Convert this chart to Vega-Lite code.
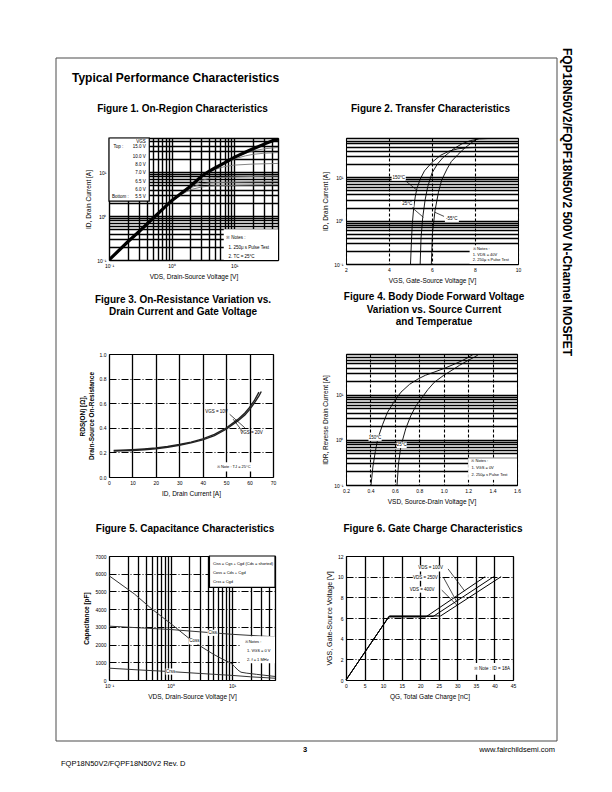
{
  "$schema": "https://vega.github.io/schema/vega-lite/v6.json",
  "background": "white",
  "padding": {"left": 56, "top": 45, "right": 5, "bottom": 5},
  "columns": 3,
  "spacing": {"row": 71, "column": 68},
  "bounds": "flush",
  "align": "each",
  "config": {
    "font": "Liberation Sans",
    "view": {"stroke": "black", "strokeWidth": 1},
    "axis": {"domain": false, "ticks": false, "labelFont": "Liberation Sans", "labelFontSize": 5, "labelColor": "black", "labelPadding": 3, "labelFlush": false, "labelOverlap": false, "titleFont": "Liberation Sans", "titleFontSize": 6.5, "titleFontWeight": "normal", "titleColor": "black", "titlePadding": 5, "grid": true, "gridColor": "black", "gridOpacity": 1, "gridWidth": 1.1},
    "title": {"font": "Liberation Sans", "fontSize": 10, "fontWeight": "bold", "color": "black", "anchor": "middle", "frame": "group", "lineHeight": 12.5},
    "text": {"font": "Liberation Sans", "color": "black", "fontSize": 4.5}
  },
  "concat": [
    {
      "width": 1, "height": 19, "view": {"stroke": null},
      "data": {"values": [{"t": "Typical Performance Characteristics"}]},
      "mark": {"type": "text", "align": "left", "baseline": "middle", "dx": -37.5, "dy": 20.5, "fontSize": 12, "fontWeight": "bold"},
      "encoding": {"text": {"field": "t"}}
    },
    {
      "width": 1, "height": 1, "view": {"stroke": null},
      "data": {"values": [{}]},
      "mark": {"type": "point", "opacity": 0}
    },
    {
      "width": 1, "height": 19, "view": {"stroke": null},
      "data": {"values": [{"t": "FQP18N50V2/FQPF18N50V2  500V N-Channel MOSFET"}]},
      "mark": {"type": "text", "angle": 90, "align": "left", "baseline": "middle", "dx": -9.5, "dy": 19.5, "fontSize": 12, "fontWeight": "bold"},
      "encoding": {"text": {"field": "t"}}
    },
    {
      "width": 169, "height": 122,
      "title": {"text": "Figure 1. On-Region Characteristics", "offset": 22, "dx": -11},
      "encoding": {
        "x": {"field": "x", "type": "quantitative", "scale": {"type": "log", "domain": [0.1, 50], "nice": false}, "axis": {"title": "VDS, Drain-Source Voltage [V]", "values": [0.1,0.2,0.3,0.4,0.5,0.6,0.7,0.8,0.9,1,2,3,4,5,6,7,8,9,10,20,30,40,50], "labelExpr": "datum.value == 0.1 ? '10⁻¹' : datum.value == 1 ? '10⁰' : datum.value == 10 ? '10¹' : ''", "gridWidth": 1.4}},
        "y": {"field": "y", "type": "quantitative", "scale": {"type": "log", "domain": [0.1, 60], "nice": false}, "axis": {"title": "ID, Drain Current [A]", "values": [0.1,0.2,0.3,0.4,0.5,0.6,0.7,0.8,0.9,1,2,3,4,5,6,7,8,9,10,20,30,40,50,60], "labelExpr": "datum.value == 0.1 ? '10⁻¹' : datum.value == 1 ? '10⁰' : datum.value == 10 ? '10¹' : ''", "gridWidth": 1.4}}
      },
      "layer": [
        {
          "data": {"values": [
            {"g": "10.0 V", "x": 1, "y": 2.25}, {"g": "10.0 V", "x": 2, "y": 4.8}, {"g": "10.0 V", "x": 3, "y": 8.1}, {"g": "10.0 V", "x": 5, "y": 12.6}, {"g": "10.0 V", "x": 7, "y": 16.2}, {"g": "10.0 V", "x": 10, "y": 21.5}, {"g": "10.0 V", "x": 15, "y": 27}, {"g": "10.0 V", "x": 20, "y": 30.5}, {"g": "10.0 V", "x": 30, "y": 34}, {"g": "10.0 V", "x": 40, "y": 35.5}, {"g": "10.0 V", "x": 50, "y": 36.5},
            {"g": "8.0 V", "x": 1, "y": 2.25}, {"g": "8.0 V", "x": 2, "y": 4.8}, {"g": "8.0 V", "x": 3, "y": 8.1}, {"g": "8.0 V", "x": 5, "y": 12.5}, {"g": "8.0 V", "x": 7, "y": 15.8}, {"g": "8.0 V", "x": 10, "y": 20}, {"g": "8.0 V", "x": 15, "y": 23.5}, {"g": "8.0 V", "x": 20, "y": 25.5}, {"g": "8.0 V", "x": 30, "y": 27}, {"g": "8.0 V", "x": 50, "y": 28},
            {"g": "7.0 V", "x": 1, "y": 2.25}, {"g": "7.0 V", "x": 2, "y": 4.7}, {"g": "7.0 V", "x": 3, "y": 7.8}, {"g": "7.0 V", "x": 4, "y": 10}, {"g": "7.0 V", "x": 5, "y": 11.6}, {"g": "7.0 V", "x": 7, "y": 13.4}, {"g": "7.0 V", "x": 10, "y": 14.5}, {"g": "7.0 V", "x": 20, "y": 15.3}, {"g": "7.0 V", "x": 50, "y": 15.8},
            {"g": "6.5 V", "x": 1, "y": 2.2}, {"g": "6.5 V", "x": 2, "y": 4.6}, {"g": "6.5 V", "x": 3, "y": 6.5}, {"g": "6.5 V", "x": 4, "y": 7.2}, {"g": "6.5 V", "x": 5, "y": 7.5}, {"g": "6.5 V", "x": 10, "y": 7.8}, {"g": "6.5 V", "x": 20, "y": 8}, {"g": "6.5 V", "x": 50, "y": 8.2},
            {"g": "6.0 V", "x": 1, "y": 2.2}, {"g": "6.0 V", "x": 2, "y": 4.4}, {"g": "6.0 V", "x": 3, "y": 5.4}, {"g": "6.0 V", "x": 4, "y": 5.7}, {"g": "6.0 V", "x": 5, "y": 5.8}, {"g": "6.0 V", "x": 10, "y": 5.9}, {"g": "6.0 V", "x": 20, "y": 6}, {"g": "6.0 V", "x": 50, "y": 6.1},
            {"g": "5.5 V", "x": 1, "y": 2.15}, {"g": "5.5 V", "x": 1.5, "y": 3.2}, {"g": "5.5 V", "x": 2, "y": 4}, {"g": "5.5 V", "x": 3, "y": 4.6}, {"g": "5.5 V", "x": 4, "y": 4.8}, {"g": "5.5 V", "x": 5, "y": 4.9}, {"g": "5.5 V", "x": 10, "y": 5}, {"g": "5.5 V", "x": 20, "y": 5.1}, {"g": "5.5 V", "x": 50, "y": 5.2}
          ]},
          "mark": {"type": "line", "color": "#777777", "strokeWidth": 0.9, "clip": true},
          "encoding": {"detail": {"field": "g"}}
        },
        {
          "data": {"values": [
            {"g": "15.0 V", "x": 0.1, "y": 0.1}, {"g": "15.0 V", "x": 0.2, "y": 0.26}, {"g": "15.0 V", "x": 0.3, "y": 0.44}, {"g": "15.0 V", "x": 0.5, "y": 0.88}, {"g": "15.0 V", "x": 0.7, "y": 1.38}, {"g": "15.0 V", "x": 1, "y": 2.25}, {"g": "15.0 V", "x": 1.5, "y": 3.5}, {"g": "15.0 V", "x": 2, "y": 4.8}, {"g": "15.0 V", "x": 3, "y": 8.1}, {"g": "15.0 V", "x": 4, "y": 10.6}, {"g": "15.0 V", "x": 5, "y": 12.6}, {"g": "15.0 V", "x": 7, "y": 16.2}, {"g": "15.0 V", "x": 10, "y": 21.8}, {"g": "15.0 V", "x": 15, "y": 28.5}, {"g": "15.0 V", "x": 20, "y": 34}, {"g": "15.0 V", "x": 30, "y": 43.5}, {"g": "15.0 V", "x": 40, "y": 51}, {"g": "15.0 V", "x": 50, "y": 57}
          ]},
          "mark": {"type": "line", "color": "black", "strokeWidth": 3.2, "clip": true}
        },
        {
          "data": {"values": [{"x": 0.1, "x2": 0.44, "y": 2.2, "y2": 60}]},
          "mark": {"type": "rect", "fill": "white", "stroke": "black", "strokeWidth": 1.2},
          "encoding": {"x2": {"field": "x2"}, "y2": {"field": "y2"}}
        },
        {
          "data": {"values": [{"x": 6.8, "x2": 50, "y": 0.1, "y2": 0.5}]},
          "mark": {"type": "rect", "fill": "white"},
          "encoding": {"x2": {"field": "x2"}, "y2": {"field": "y2"}}
        },
        {
          "data": {"values": [
            {"x": 0.385, "y": 49, "t": "VGS"}, {"x": 0.385, "y": 37.7, "t": "15.0 V"}, {"x": 0.385, "y": 22.2, "t": "10.0 V"}, {"x": 0.385, "y": 14.5, "t": "8.0 V"}, {"x": 0.385, "y": 9.4, "t": "7.0 V"}, {"x": 0.385, "y": 6.0, "t": "6.5 V"}, {"x": 0.385, "y": 4.0, "t": "6.0 V"}, {"x": 0.385, "y": 2.7, "t": "5.5 V"}
          ]},
          "mark": {"type": "text", "align": "right", "baseline": "middle"},
          "encoding": {"text": {"field": "t"}}
        },
        {
          "data": {"values": [
            {"x": 0.118, "y": 37.7, "t": "Top :"}, {"x": 0.112, "y": 2.7, "t": "Bottom :"},
            {"x": 7.4, "y": 0.315, "t": "※ Notes :"}, {"x": 8.1, "y": 0.19, "t": "1. 250μ s Pulse Test"}, {"x": 8.1, "y": 0.12, "t": "2. TC = 25°C"}
          ]},
          "mark": {"type": "text", "align": "left", "baseline": "middle"},
          "encoding": {"text": {"field": "t"}}
        }
      ]
    },
    {
      "width": 172, "height": 126,
      "title": {"text": "Figure 2. Transfer Characteristics", "offset": 22, "dx": -1.5},
      "encoding": {
        "x": {"field": "x", "type": "quantitative", "scale": {"domain": [2, 10], "nice": false, "zero": false}, "axis": {"title": "VGS, Gate-Source Voltage [V]", "values": [2, 4, 6, 8, 10], "gridDash": [3, 2]}},
        "y": {"field": "y", "type": "quantitative", "scale": {"type": "log", "domain": [0.1, 80], "nice": false}, "axis": {"title": "ID, Drain Current [A]", "values": [0.1,0.2,0.3,0.4,0.5,0.6,0.7,0.8,0.9,1,2,3,4,5,6,7,8,9,10,20,30,40,50,60,70,80], "labelExpr": "datum.value == 0.1 ? '10⁻¹' : datum.value == 1 ? '10⁰' : datum.value == 10 ? '10¹' : ''", "gridWidth": 1.3}}
      },
      "layer": [
        {
          "data": {"values": [
            {"g": "150°C", "x": 5.0, "y": 0.1}, {"g": "150°C", "x": 5.04, "y": 0.3}, {"g": "150°C", "x": 5.08, "y": 0.8}, {"g": "150°C", "x": 5.15, "y": 2}, {"g": "150°C", "x": 5.22, "y": 3.5}, {"g": "150°C", "x": 5.3, "y": 5.5}, {"g": "150°C", "x": 5.45, "y": 9}, {"g": "150°C", "x": 5.65, "y": 14}, {"g": "150°C", "x": 6.0, "y": 22}, {"g": "150°C", "x": 6.4, "y": 32}, {"g": "150°C", "x": 6.8, "y": 40}, {"g": "150°C", "x": 7.2, "y": 45}, {"g": "150°C", "x": 7.6, "y": 47.5}, {"g": "150°C", "x": 8, "y": 48.5}, {"g": "150°C", "x": 10, "y": 49},
            {"g": "25°C", "x": 5.45, "y": 0.1}, {"g": "25°C", "x": 5.49, "y": 0.4}, {"g": "25°C", "x": 5.57, "y": 1.2}, {"g": "25°C", "x": 5.68, "y": 3}, {"g": "25°C", "x": 5.8, "y": 6}, {"g": "25°C", "x": 6.0, "y": 12.5}, {"g": "25°C", "x": 6.25, "y": 20}, {"g": "25°C", "x": 6.5, "y": 28}, {"g": "25°C", "x": 7.0, "y": 45}, {"g": "25°C", "x": 7.4, "y": 59}, {"g": "25°C", "x": 7.8, "y": 70}, {"g": "25°C", "x": 8.2, "y": 76}, {"g": "25°C", "x": 8.6, "y": 77.5}, {"g": "25°C", "x": 10, "y": 78},
            {"g": "-55°C", "x": 5.97, "y": 0.1}, {"g": "-55°C", "x": 6.02, "y": 0.5}, {"g": "-55°C", "x": 6.14, "y": 1.7}, {"g": "-55°C", "x": 6.3, "y": 4.5}, {"g": "-55°C", "x": 6.45, "y": 8.6}, {"g": "-55°C", "x": 6.7, "y": 15.5}, {"g": "-55°C", "x": 6.9, "y": 23}, {"g": "-55°C", "x": 7.2, "y": 33}, {"g": "-55°C", "x": 7.5, "y": 46}, {"g": "-55°C", "x": 7.8, "y": 60}, {"g": "-55°C", "x": 8.0, "y": 72}, {"g": "-55°C", "x": 8.2, "y": 80}
          ]},
          "mark": {"type": "line", "color": "black", "strokeWidth": 0.9, "clip": true},
          "encoding": {"detail": {"field": "g"}}
        },
        {
          "data": {"values": [{"x": 4.75, "y": 8.4, "x2": 5.28, "y2": 5.1}, {"x": 5.07, "y": 2.0, "x2": 5.6, "y2": 1.19}, {"x": 6.56, "y": 1.25, "x2": 6.14, "y2": 1.55}]},
          "mark": {"type": "rule", "strokeWidth": 0.7},
          "encoding": {"x2": {"field": "x2"}, "y2": {"field": "y2"}}
        },
        {
          "data": {"values": [{"x": 4.12, "x2": 4.78, "y": 8.3, "y2": 11.5}, {"x": 4.55, "x2": 5.15, "y": 2.05, "y2": 2.8}, {"x": 6.6, "x2": 7.25, "y": 0.93, "y2": 1.28}, {"x": 7.75, "x2": 10, "y": 0.1, "y2": 0.27}]},
          "mark": {"type": "rect", "fill": "white"},
          "encoding": {"x2": {"field": "x2"}, "y2": {"field": "y2"}}
        },
        {
          "data": {"values": [{"x": 4.45, "y": 9.8, "t": "150°C"}, {"x": 4.85, "y": 2.4, "t": "25°C"}, {"x": 6.92, "y": 1.1, "t": "-55°C"}]},
          "mark": {"type": "text", "align": "center", "baseline": "middle"},
          "encoding": {"text": {"field": "t"}}
        },
        {
          "data": {"values": [{"x": 7.9, "y": 0.22, "t": "※ Notes :"}, {"x": 7.9, "y": 0.163, "t": "1. VDS = 40V"}, {"x": 7.9, "y": 0.124, "t": "2. 250μ s Pulse Test"}]},
          "mark": {"type": "text", "align": "left", "baseline": "middle", "fontSize": 4},
          "encoding": {"text": {"field": "t"}}
        }
      ]
    },
    {
      "width": 1, "height": 145, "view": {"stroke": null},
      "data": {"values": [{}]},
      "mark": {"type": "point", "opacity": 0}
    },
    {
      "width": 164, "height": 123,
      "title": {"text": ["Figure 3. On-Resistance Variation vs.", "Drain Current and Gate Voltage"], "offset": 35, "dx": -8},
      "encoding": {
        "x": {"field": "x", "type": "quantitative", "scale": {"domain": [0, 70], "nice": false}, "axis": {"title": "ID, Drain Current [A]", "values": [0, 10, 20, 30, 40, 50, 60, 70], "format": "d", "gridWidth": 1.3}},
        "y": {"field": "y", "type": "quantitative", "scale": {"domain": [0, 1], "nice": false}, "axis": {"title": ["RDS(ON) [Ω],", "Drain-Source On-Resistance"], "titleFontWeight": "bold", "values": [0, 0.2, 0.4, 0.6, 0.8, 1.0], "format": ".1f", "gridDash": [7, 2, 1, 2]}}
      },
      "layer": [
        {
          "data": {"values": [
            {"g": "10V", "x": 2, "y": 0.215}, {"g": "10V", "x": 5, "y": 0.217}, {"g": "10V", "x": 10, "y": 0.222}, {"g": "10V", "x": 15, "y": 0.228}, {"g": "10V", "x": 20, "y": 0.236}, {"g": "10V", "x": 25, "y": 0.248}, {"g": "10V", "x": 30, "y": 0.264}, {"g": "10V", "x": 35, "y": 0.284}, {"g": "10V", "x": 40, "y": 0.31}, {"g": "10V", "x": 45, "y": 0.346}, {"g": "10V", "x": 50, "y": 0.398}, {"g": "10V", "x": 55, "y": 0.468}, {"g": "10V", "x": 58, "y": 0.52}, {"g": "10V", "x": 60, "y": 0.565}, {"g": "10V", "x": 62, "y": 0.62}, {"g": "10V", "x": 64, "y": 0.69},
            {"g": "20V", "x": 2, "y": 0.21}, {"g": "20V", "x": 5, "y": 0.212}, {"g": "20V", "x": 10, "y": 0.216}, {"g": "20V", "x": 15, "y": 0.222}, {"g": "20V", "x": 20, "y": 0.23}, {"g": "20V", "x": 25, "y": 0.242}, {"g": "20V", "x": 30, "y": 0.258}, {"g": "20V", "x": 35, "y": 0.277}, {"g": "20V", "x": 40, "y": 0.302}, {"g": "20V", "x": 45, "y": 0.337}, {"g": "20V", "x": 50, "y": 0.388}, {"g": "20V", "x": 55, "y": 0.456}, {"g": "20V", "x": 58, "y": 0.505}, {"g": "20V", "x": 60, "y": 0.548}, {"g": "20V", "x": 62, "y": 0.6}, {"g": "20V", "x": 64, "y": 0.66}, {"g": "20V", "x": 65, "y": 0.695}
          ]},
          "mark": {"type": "line", "color": "#222222", "strokeWidth": 1.4},
          "encoding": {"detail": {"field": "g"}}
        },
        {
          "data": {"values": [{"x": 51.5, "y": 0.51, "x2": 58, "y2": 0.4}, {"x": 57, "y": 0.37, "x2": 53, "y2": 0.47}]},
          "mark": {"type": "rule", "strokeWidth": 0.7},
          "encoding": {"x2": {"field": "x2"}, "y2": {"field": "y2"}}
        },
        {
          "data": {"values": [{"x": 45, "x2": 69, "y": 0.045, "y2": 0.12}]},
          "mark": {"type": "rect", "fill": "white"},
          "encoding": {"x2": {"field": "x2"}, "y2": {"field": "y2"}}
        },
        {
          "data": {"values": [{"x": 45.9, "y": 0.526, "t": "VGS = 10V"}, {"x": 60.8, "y": 0.356, "t": "VGS = 20V"}]},
          "mark": {"type": "text", "align": "center", "baseline": "middle"},
          "encoding": {"text": {"field": "t"}}
        },
        {
          "data": {"values": [{"x": 46, "y": 0.082, "t": "※ Note : TJ = 25°C"}]},
          "mark": {"type": "text", "align": "left", "baseline": "middle", "fontSize": 4},
          "encoding": {"text": {"field": "t"}}
        }
      ]
    },
    {
      "width": 171, "height": 131,
      "title": {"text": ["Figure 4. Body Diode Forward Voltage", "Variation vs. Source Current", "and Temperatue"], "offset": 25, "dx": 2.5},
      "encoding": {
        "x": {"field": "x", "type": "quantitative", "scale": {"domain": [0.2, 1.6], "nice": false, "zero": false}, "axis": {"title": "VSD, Source-Drain Voltage [V]", "values": [0.2, 0.4, 0.6, 0.8, 1.0, 1.2, 1.4, 1.6], "format": ".1f", "gridDash": [3, 2]}},
        "y": {"field": "y", "type": "quantitative", "scale": {"type": "log", "domain": [0.1, 80], "nice": false}, "axis": {"title": "IDR, Reverse Drain Current [A]", "values": [0.1,0.2,0.3,0.4,0.5,0.6,0.7,0.8,0.9,1,2,3,4,5,6,7,8,9,10,20,30,40,50,60,70,80], "labelExpr": "datum.value == 0.1 ? '10⁻¹' : datum.value == 1 ? '10⁰' : datum.value == 10 ? '10¹' : ''", "gridWidth": 1.3}}
      },
      "layer": [
        {
          "data": {"values": [
            {"g": "150°C", "x": 0.405, "y": 0.1}, {"g": "150°C", "x": 0.42, "y": 0.25}, {"g": "150°C", "x": 0.44, "y": 0.55}, {"g": "150°C", "x": 0.46, "y": 1.05}, {"g": "150°C", "x": 0.5, "y": 2.2}, {"g": "150°C", "x": 0.54, "y": 4.1}, {"g": "150°C", "x": 0.6, "y": 7.5}, {"g": "150°C", "x": 0.65, "y": 11.4}, {"g": "150°C", "x": 0.72, "y": 17}, {"g": "150°C", "x": 0.79, "y": 22.4}, {"g": "150°C", "x": 0.85, "y": 27}, {"g": "150°C", "x": 0.92, "y": 31.6}, {"g": "150°C", "x": 1.0, "y": 38}, {"g": "150°C", "x": 1.09, "y": 48}, {"g": "150°C", "x": 1.15, "y": 57}, {"g": "150°C", "x": 1.2, "y": 67}, {"g": "150°C", "x": 1.24, "y": 78},
            {"g": "25°C", "x": 0.618, "y": 0.1}, {"g": "25°C", "x": 0.63, "y": 0.3}, {"g": "25°C", "x": 0.65, "y": 0.74}, {"g": "25°C", "x": 0.69, "y": 1.8}, {"g": "25°C", "x": 0.73, "y": 3.4}, {"g": "25°C", "x": 0.77, "y": 5.5}, {"g": "25°C", "x": 0.814, "y": 8.1}, {"g": "25°C", "x": 0.87, "y": 13}, {"g": "25°C", "x": 0.923, "y": 18.9}, {"g": "25°C", "x": 1.0, "y": 27}, {"g": "25°C", "x": 1.06, "y": 34}, {"g": "25°C", "x": 1.13, "y": 45}, {"g": "25°C", "x": 1.196, "y": 57}, {"g": "25°C", "x": 1.25, "y": 68}, {"g": "25°C", "x": 1.28, "y": 76}
          ]},
          "mark": {"type": "line", "color": "black", "strokeWidth": 0.9, "clip": true},
          "encoding": {"detail": {"field": "g"}}
        },
        {
          "data": {"values": [{"x": 0.384, "x2": 0.492, "y": 0.95, "y2": 1.3}, {"x": 0.615, "x2": 0.697, "y": 0.66, "y2": 0.9}, {"x": 1.2, "x2": 1.6, "y": 0.13, "y2": 0.39}]},
          "mark": {"type": "rect", "fill": "white"},
          "encoding": {"x2": {"field": "x2"}, "y2": {"field": "y2"}}
        },
        {
          "data": {"values": [{"x": 0.438, "y": 1.11, "t": "150°C"}, {"x": 0.656, "y": 0.77, "t": "25°C"}]},
          "mark": {"type": "text", "align": "center", "baseline": "middle"},
          "encoding": {"text": {"field": "t"}}
        },
        {
          "data": {"values": [{"x": 1.227, "y": 0.335, "t": "※ Notes :"}, {"x": 1.227, "y": 0.234, "t": "1. VGS = 0V"}, {"x": 1.227, "y": 0.164, "t": "2. 250μ s Pulse Test"}]},
          "mark": {"type": "text", "align": "left", "baseline": "middle", "fontSize": 4},
          "encoding": {"text": {"field": "t"}}
        }
      ]
    },
    {
      "width": 1, "height": 1, "view": {"stroke": null},
      "data": {"values": [{}]},
      "mark": {"type": "point", "opacity": 0}
    },
    {
      "width": 166, "height": 124,
      "title": {"text": "Figure 5. Capacitance Characteristics", "offset": 20, "dx": -7},
      "encoding": {
        "x": {"field": "x", "type": "quantitative", "scale": {"type": "log", "domain": [0.1, 50], "nice": false}, "axis": {"title": "VDS, Drain-Source Voltage [V]", "values": [0.1,0.2,0.3,0.4,0.5,0.6,0.7,0.8,0.9,1,2,3,4,5,6,7,8,9,10,20,30,40,50], "labelExpr": "datum.value == 0.1 ? '10⁻¹' : datum.value == 1 ? '10⁰' : datum.value == 10 ? '10¹' : ''", "gridWidth": 1.3}},
        "y": {"field": "y", "type": "quantitative", "scale": {"domain": [0, 7000], "nice": false}, "axis": {"title": "Capacitance [pF]", "titleFontWeight": "bold", "values": [0, 1000, 2000, 3000, 4000, 5000, 6000, 7000], "format": "d", "gridDash": [7, 2, 1, 2]}}
      },
      "layer": [
        {
          "data": {"values": [
            {"g": "Ciss", "x": 0.1, "y": 3040}, {"g": "Ciss", "x": 0.3, "y": 2950}, {"g": "Ciss", "x": 1, "y": 2850}, {"g": "Ciss", "x": 3, "y": 2720}, {"g": "Ciss", "x": 10, "y": 2580}, {"g": "Ciss", "x": 30, "y": 2480}, {"g": "Ciss", "x": 50, "y": 2440},
            {"g": "Coss", "x": 0.1, "y": 5890}, {"g": "Coss", "x": 0.26, "y": 4850}, {"g": "Coss", "x": 0.5, "y": 4000}, {"g": "Coss", "x": 1, "y": 3195}, {"g": "Coss", "x": 2, "y": 2350}, {"g": "Coss", "x": 3.1, "y": 1900}, {"g": "Coss", "x": 5, "y": 1450}, {"g": "Coss", "x": 7, "y": 1180}, {"g": "Coss", "x": 9.6, "y": 950}, {"g": "Coss", "x": 11, "y": 760}, {"g": "Coss", "x": 12.5, "y": 560}, {"g": "Coss", "x": 14, "y": 440}, {"g": "Coss", "x": 17, "y": 390}, {"g": "Coss", "x": 25, "y": 320}, {"g": "Coss", "x": 50, "y": 200},
            {"g": "Crss", "x": 0.1, "y": 667}, {"g": "Crss", "x": 0.3, "y": 570}, {"g": "Crss", "x": 1, "y": 475}, {"g": "Crss", "x": 3, "y": 370}, {"g": "Crss", "x": 10, "y": 260}, {"g": "Crss", "x": 20, "y": 180}, {"g": "Crss", "x": 50, "y": 100}
          ]},
          "mark": {"type": "line", "color": "#333333", "strokeWidth": 1},
          "encoding": {"detail": {"field": "g"}}
        },
        {
          "data": {"values": [{"x": 4.3, "x2": 50, "y": 5230, "y2": 7000}]},
          "mark": {"type": "rect", "fill": "white", "stroke": "black", "strokeWidth": 1.2},
          "encoding": {"x2": {"field": "x2"}, "y2": {"field": "y2"}}
        },
        {
          "data": {"values": [{"x": 14, "x2": 50, "y": 950, "y2": 2470}, {"x": 4.0, "x2": 5.85, "y": 2490, "y2": 2840}, {"x": 2.0, "x2": 2.95, "y": 2010, "y2": 2360}, {"x": 0.83, "x2": 1.2, "y": 300, "y2": 650}]},
          "mark": {"type": "rect", "fill": "white"},
          "encoding": {"x2": {"field": "x2"}, "y2": {"field": "y2"}}
        },
        {
          "data": {"values": [{"x": 4.85, "y": 2664, "t": "Ciss"}, {"x": 2.44, "y": 2185, "t": "Coss"}, {"x": 1.0, "y": 475, "t": "Crss"}]},
          "mark": {"type": "text", "align": "center", "baseline": "middle"},
          "encoding": {"text": {"field": "t"}}
        },
        {
          "data": {"values": [
            {"x": 4.9, "y": 6560, "t": "Ciss = Cgs + Cgd (Cds = shorted)"}, {"x": 4.9, "y": 6050, "t": "Coss = Cds + Cgd"}, {"x": 4.9, "y": 5530, "t": "Crss = Cgd"},
            {"x": 16, "y": 2140, "t": "※ Notes :"}, {"x": 17.5, "y": 1616, "t": "1. VGS = 0 V"}, {"x": 17.5, "y": 1141, "t": "2. f = 1 MHz"}
          ]},
          "mark": {"type": "text", "align": "left", "baseline": "middle", "fontSize": 4},
          "encoding": {"text": {"field": "t"}}
        }
      ]
    },
    {
      "width": 167, "height": 124,
      "title": {"text": "Figure 6. Gate Charge Characteristics", "offset": 20, "dx": 3.5},
      "encoding": {
        "x": {"field": "x", "type": "quantitative", "scale": {"domain": [0, 45], "nice": false}, "axis": {"title": "QG, Total Gate Charge [nC]", "values": [0, 5, 10, 15, 20, 25, 30, 35, 40, 45], "format": "d", "gridWidth": 1.3}},
        "y": {"field": "y", "type": "quantitative", "scale": {"domain": [0, 12], "nice": false}, "axis": {"title": "VGS, Gate-Source Voltage [V]", "titleFontSize": 7, "values": [0, 2, 4, 6, 8, 10, 12], "format": "d", "gridDash": [7, 2, 1, 2]}}
      },
      "layer": [
        {
          "data": {"values": [
            {"g": "100V", "x": 0, "y": 0}, {"g": "100V", "x": 11.5, "y": 6.1}, {"g": "100V", "x": 21.5, "y": 6.1}, {"g": "100V", "x": 37.5, "y": 10},
            {"g": "250V", "x": 0, "y": 0}, {"g": "250V", "x": 11.6, "y": 6.15}, {"g": "250V", "x": 23.5, "y": 6.15}, {"g": "250V", "x": 39.8, "y": 10},
            {"g": "400V", "x": 0, "y": 0}, {"g": "400V", "x": 11.7, "y": 6.2}, {"g": "400V", "x": 25.5, "y": 6.2}, {"g": "400V", "x": 41.8, "y": 10}
          ]},
          "mark": {"type": "line", "color": "black", "strokeWidth": 1},
          "encoding": {"detail": {"field": "g"}}
        },
        {
          "data": {"values": [{"x": 27.5, "y": 10.75, "x2": 32, "y2": 8.6}, {"x": 26.3, "y": 9.9, "x2": 29.8, "y2": 7.6}, {"x": 25.8, "y": 8.7, "x2": 30, "y2": 7.2}]},
          "mark": {"type": "rule", "strokeWidth": 0.7},
          "encoding": {"x2": {"field": "x2"}, "y2": {"field": "y2"}}
        },
        {
          "data": {"values": [{"x": 19.4, "x2": 26.2, "y": 10.5, "y2": 11.1}, {"x": 18, "x2": 24.8, "y": 9.6, "y2": 10.2}, {"x": 17.1, "x2": 23.9, "y": 8.45, "y2": 9.05}, {"x": 34, "x2": 44.8, "y": 0.5, "y2": 1.65}]},
          "mark": {"type": "rect", "fill": "white"},
          "encoding": {"x2": {"field": "x2"}, "y2": {"field": "y2"}}
        },
        {
          "data": {"values": [{"x": 22.8, "y": 10.8, "t": "VDS = 100V"}, {"x": 21.4, "y": 9.9, "t": "VDS = 250V"}, {"x": 20.5, "y": 8.75, "t": "VDS = 400V"}, {"x": 39.3, "y": 1.07, "t": "※ Note : ID = 18A"}]},
          "mark": {"type": "text", "align": "center", "baseline": "middle"},
          "encoding": {"text": {"field": "t"}}
        }
      ]
    },
    {
      "width": 1, "height": 1, "view": {"stroke": null},
      "data": {"values": [{}]},
      "mark": {"type": "point", "opacity": 0}
    },
    {
      "width": 1, "height": 1, "view": {"stroke": null},
      "layer": [
        {"data": {"values": [{"t": "3"}]}, "mark": {"type": "text", "align": "center", "baseline": "middle", "dx": 195.5, "dy": -1.5, "fontSize": 7.5, "fontWeight": "bold"}, "encoding": {"text": {"field": "t"}}},
        {"data": {"values": [{"t": "www.fairchildsemi.com"}]}, "mark": {"type": "text", "align": "right", "baseline": "middle", "dx": 445.5, "dy": -1.5, "fontSize": 7.5}, "encoding": {"text": {"field": "t"}}},
        {"data": {"values": [{"t": "FQP18N50V2/FQPF18N50V2 Rev. D"}]}, "mark": {"type": "text", "align": "left", "baseline": "middle", "dx": -48.5, "dy": 12.5, "fontSize": 7.5}, "encoding": {"text": {"field": "t"}}},
        {
          "data": {"values": [{"c": 0}, {"c": 1}]},
          "mark": {"type": "point", "size": 0},
          "encoding": {
            "color": {"field": "c", "type": "quantitative", "scale": {"range": ["rgba(255,255,255,0)", "rgba(255,255,255,0)"]},
              "legend": {"orient": "none", "legendX": -53, "legendY": 10, "direction": "vertical", "gradientLength": 683, "gradientThickness": 501, "gradientStrokeColor": "black", "gradientStrokeWidth": 1, "labelExpr": "''", "labelOpacity": 0, "labelFontSize": 1, "title": null, "padding": 0}}
          }
        }
      ]
    }
  ]
}
